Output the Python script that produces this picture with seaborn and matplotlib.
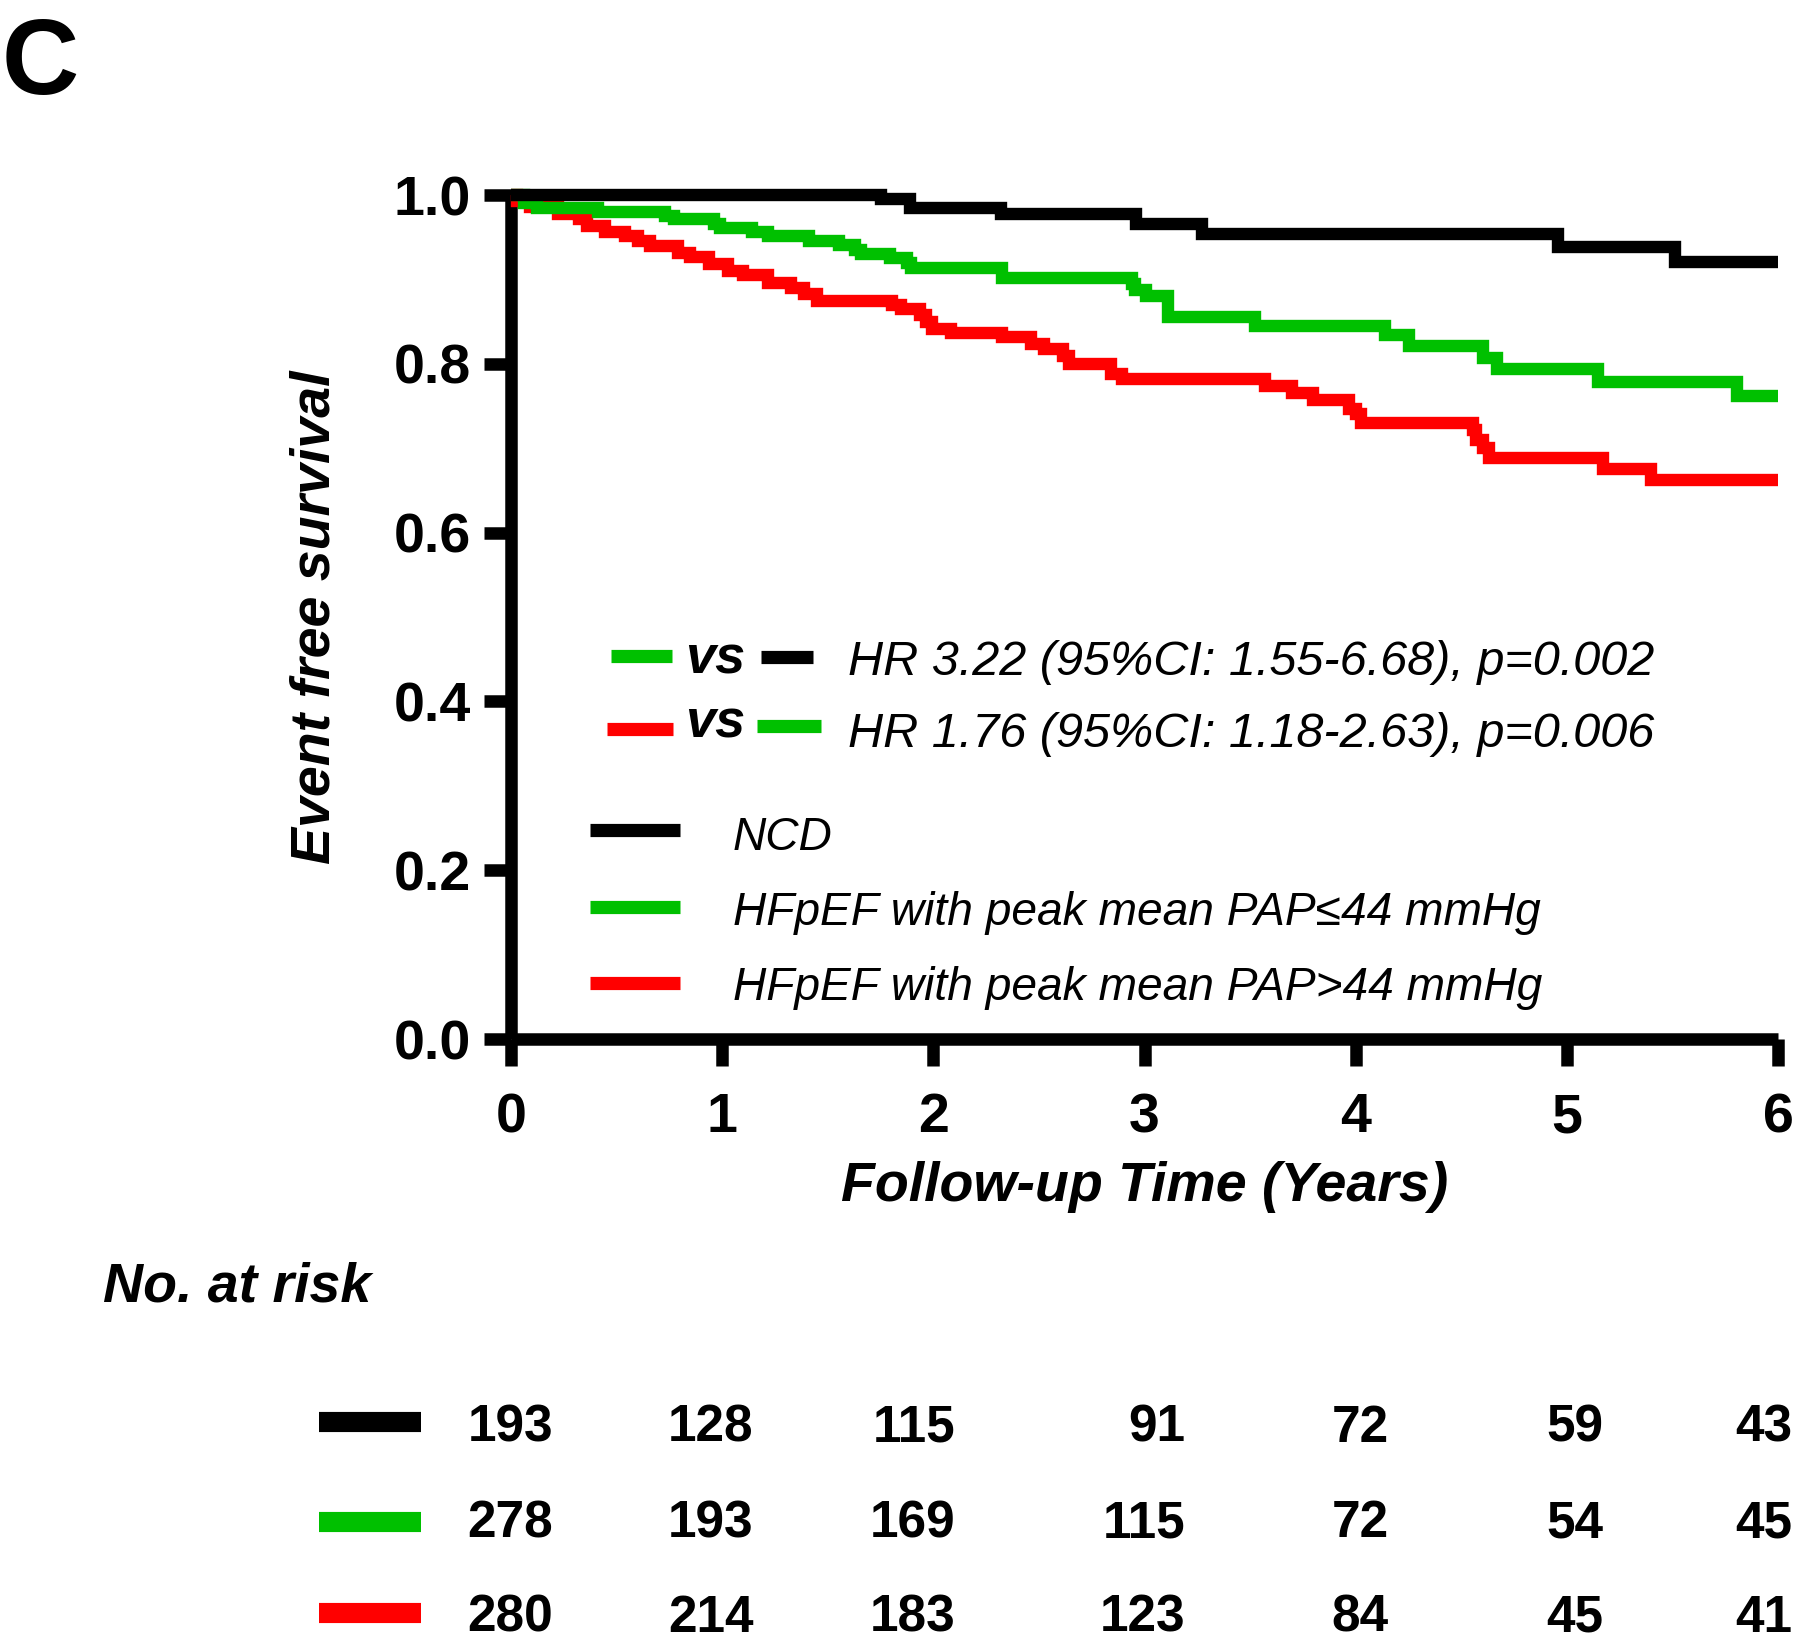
import numpy as np
import pandas as pd
import matplotlib
matplotlib.use("Agg")
import matplotlib.pyplot as plt
from matplotlib.lines import Line2D
from matplotlib.transforms import blended_transform_factory
import seaborn as sns

# ---------------- data ----------------
groups = ["NCD", "HFpEF with peak mean PAP≤44 mmHg", "HFpEF with peak mean PAP>44 mmHg"]
colors = ["#000000", "#00C000", "#FF0000"]

ncd_time = [0, 1.75, 1.89, 2.32, 2.96, 3.27, 4.96, 5.51, 6.0]
ncd_surv = [1.0, 0.995, 0.985, 0.977, 0.966, 0.954, 0.938, 0.921, 0.921]

low_time = [0, 0.063, 0.122, 0.411, 0.730, 0.770, 0.959, 0.989, 1.139, 1.218,
            1.413, 1.551, 1.627, 1.657, 1.796, 1.876, 1.896, 2.324, 2.942, 2.955,
            3.007, 3.109, 3.523, 4.140, 4.253, 4.601, 4.671, 5.149, 5.804, 6.0]
low_surv = [1.0, 0.990, 0.985, 0.980, 0.975, 0.971, 0.966, 0.961, 0.956, 0.951,
            0.946, 0.941, 0.935, 0.930, 0.925, 0.919, 0.914, 0.902, 0.895, 0.887,
            0.880, 0.856, 0.845, 0.834, 0.821, 0.807, 0.794, 0.778, 0.762, 0.762]

high_time = [0, 0.03, 0.092, 0.222, 0.322, 0.361, 0.447, 0.541, 0.600, 0.660,
             0.790, 0.846, 0.939, 1.029, 1.099, 1.218, 1.328, 1.388, 1.448, 1.806,
             1.846, 1.936, 1.966, 1.995, 2.085, 2.324, 2.464, 2.524, 2.613, 2.643,
             2.842, 2.892, 3.570, 3.699, 3.800, 3.970, 4.0, 4.027, 4.554, 4.568,
             4.605, 4.632, 5.169, 5.399, 6.0]
high_surv = [1.0, 0.993, 0.986, 0.977, 0.971, 0.9635, 0.956, 0.952, 0.946, 0.940,
             0.931, 0.927, 0.918, 0.910, 0.905, 0.896, 0.890, 0.883, 0.874, 0.870,
             0.865, 0.858, 0.850, 0.841, 0.837, 0.832, 0.824, 0.817, 0.809, 0.800,
             0.788, 0.782, 0.774, 0.765, 0.757, 0.747, 0.740, 0.730, 0.721, 0.710,
             0.700, 0.688, 0.675, 0.662, 0.662]

x_ticks = [0, 1, 2, 3, 4, 5, 6]
y_ticks = [0.0, 0.2, 0.4, 0.6, 0.8, 1.0]
y_tick_labels = ["0.0", "0.2", "0.4", "0.6", "0.8", "1.0"]

risk_ncd = [193, 128, 115, 91, 72, 59, 43]
risk_low = [278, 193, 169, 115, 72, 54, 45]
risk_high = [280, 214, 183, 123, 84, 45, 41]

hr_texts = ["HR 3.22 (95%CI: 1.55-6.68), p=0.002",
            "HR 1.76 (95%CI: 1.18-2.63), p=0.006"]

# ---------------- style ----------------
sns.set_style("ticks")
plt.rcParams["font.family"] = ["Liberation Sans", "DejaVu Sans"]
for key in ["text.color", "axes.labelcolor", "xtick.color", "ytick.color", "axes.edgecolor"]:
    plt.rcParams[key] = "black"

W, H = 1800, 1637
fig = plt.figure(figsize=(W / 100, H / 100), dpi=100)

def fx(x):
    return x / W

def fy(y):
    return 1 - y / H

ax = fig.add_axes([fx(511), fy(1039), 1267 / W, 844 / H])

df = pd.concat([
    pd.DataFrame({"t": ncd_time, "S": ncd_surv, "g": groups[0]}),
    pd.DataFrame({"t": low_time, "S": low_surv, "g": groups[1]}),
    pd.DataFrame({"t": high_time, "S": high_surv, "g": groups[2]}),
])

for g, c in [(groups[2], colors[2]), (groups[1], colors[1]), (groups[0], colors[0])]:
    sns.lineplot(data=df[df["g"] == g], x="t", y="S", color=c, ax=ax,
                 estimator=None, sort=False, legend=False,
                 drawstyle="steps-post", linewidth=8.9, clip_on=False,
                 solid_joinstyle="miter", solid_capstyle="butt", zorder=3)

ax.set_xlim(0, 6)
ax.set_ylim(0, 1.0)
ax.set_xticks(x_ticks)
ax.set_xticklabels([str(v) for v in x_ticks])
ax.set_yticks(y_ticks)
ax.set_yticklabels(y_tick_labels)
sns.despine(ax=ax)
for s in ["left", "bottom"]:
    ax.spines[s].set_linewidth(9)
    ax.spines[s].set_capstyle("butt")
    ax.spines[s].set_color("black")
ax.tick_params(axis="both", direction="out", width=9, length=19.5, labelsize=40,
               color="black", labelcolor="black")
ax.tick_params(axis="x", pad=19)
ax.tick_params(axis="y", pad=9.5)
for lab in ax.get_xticklabels() + ax.get_yticklabels():
    lab.set_fontweight("bold")

ax.set_xlabel("Follow-up Time (Years)", fontsize=40, fontweight="bold", style="italic",
              color="black")
ax.xaxis.label.set_va("baseline")
ax.xaxis.set_label_coords(0.5, (fy(1201) - fy(1039)) / (844 / H))
ax.set_ylabel("Event free survival", fontsize=40, fontweight="bold", style="italic",
              color="black")
ax.yaxis.label.set_va("center")
ax.yaxis.set_label_coords((316 - 511) / 1267, 0.5)

# panel letter
fig.text(fx(2), fy(94), "C", fontsize=77, fontweight="bold", ha="left", va="baseline")

def hline(x0, x1, y, color, lw):
    fig.add_artist(Line2D([fx(x0), fx(x1)], [fy(y), fy(y)], transform=fig.transFigure,
                          color=color, linewidth=lw, solid_capstyle="butt"))

# HR comparison rows
hline(611, 672, 656, colors[1], 9.5)
fig.text(fx(685), fy(673), "vs", fontsize=39, fontweight="bold", style="italic", va="baseline")
hline(761, 813, 657, colors[0], 9.5)
fig.text(fx(848), fy(675), hr_texts[0], fontsize=35, style="italic", va="baseline")

hline(607, 673, 729, colors[2], 9.5)
fig.text(fx(685), fy(738), "vs", fontsize=39, fontweight="bold", style="italic", va="baseline")
hline(757, 821, 726, colors[1], 9.5)
fig.text(fx(848), fy(747), hr_texts[1], fontsize=35, style="italic", va="baseline")

# group legend
for yl, yb, g, c in [(830, 850, groups[0], colors[0]),
                     (907, 925, groups[1], colors[1]),
                     (983, 1000, groups[2], colors[2])]:
    hline(590, 680, yl, c, 9.5)
    fig.text(fx(733), fy(yb), g, fontsize=33.2, style="italic", va="baseline")

# number at risk table
fig.text(fx(103), fy(1302), "No. at risk", fontsize=40, fontweight="bold",
         style="italic", va="baseline")
col_right = [0.20, 1.150, 2.106, 3.194, 4.155, 5.172, 6.066]
trans = blended_transform_factory(ax.transData, fig.transFigure)
for row, c, yl, yb in [(risk_ncd, colors[0], 1422, 1442),
                       (risk_low, colors[1], 1522, 1537),
                       (risk_high, colors[2], 1613, 1632)]:
    hline(319, 421, yl, c, 14.5)
    for xr, n in zip(col_right, row):
        ax.text(xr, fy(yb), str(n), transform=trans, fontsize=37, fontweight="bold",
                ha="right", va="baseline", clip_on=False)

fig.savefig("out.png", dpi=100)
